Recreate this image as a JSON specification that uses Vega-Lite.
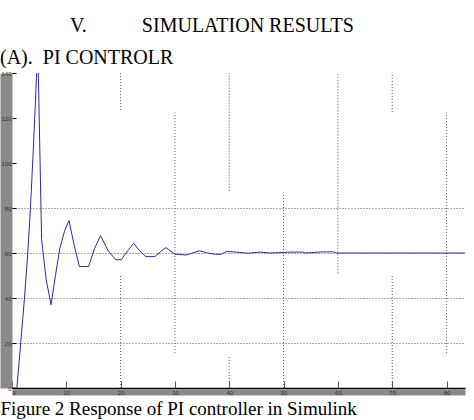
{
  "$schema": "https://vega.github.io/schema/vega-lite/v6.json",
  "width": 453,
  "height": 315,
  "autosize": {"type": "none"},
  "padding": {"left": 12, "top": 73, "right": 9, "bottom": 32},
  "background": "white",
  "title": {
    "text": "\u200b\u00a0\u00a0\u00a0\u00a0\u00a0\u00a0\u00a0\u00a0\u00a0\u00a0\u00a0\u00a0\u00a0\u00a0V.\u00a0\u00a0\u00a0\u00a0\u00a0\u00a0\u00a0\u00a0\u00a0\u00a0\u00a0SIMULATION RESULTS",
    "subtitle": "(A).\u00a0\u00a0PI CONTROLR",
    "anchor": "start",
    "frame": "group",
    "dx": -12,
    "offset": 2,
    "font": "Liberation Serif",
    "fontSize": 20,
    "fontWeight": "normal",
    "color": "black",
    "subtitleFont": "Liberation Serif",
    "subtitleFontSize": 20,
    "subtitleColor": "black",
    "subtitlePadding": 12
  },
  "datasets": {
    "gridSegments": [
      {"t": 20, "low": 123.5, "high": 140},
      {"t": 20, "low": 0, "high": 50},
      {"t": 30, "low": 15.5, "high": 122.4},
      {"t": 40, "low": 87.7, "high": 140},
      {"t": 40, "low": 0, "high": 14.2},
      {"t": 50, "low": 0, "high": 86.8},
      {"t": 60, "low": 51, "high": 140},
      {"t": 70, "low": 122.7, "high": 140},
      {"t": 70, "low": 0, "high": 49.8},
      {"t": 80, "low": 15.5, "high": 122.4}
    ],
    "response": [
      {"t": 0, "v": 0},
      {"t": 0.9, "v": 0},
      {"t": 1.6, "v": 20},
      {"t": 2.3, "v": 40},
      {"t": 2.9, "v": 60},
      {"t": 3.4, "v": 80},
      {"t": 4.0, "v": 110},
      {"t": 4.75, "v": 152},
      {"t": 5.45, "v": 66},
      {"t": 6.3, "v": 48},
      {"t": 7.2, "v": 37},
      {"t": 8.0, "v": 50},
      {"t": 8.8, "v": 62},
      {"t": 9.7, "v": 70},
      {"t": 10.5, "v": 74.4},
      {"t": 11.4, "v": 64},
      {"t": 12.4, "v": 54},
      {"t": 14.1, "v": 54},
      {"t": 15.2, "v": 62},
      {"t": 16.3, "v": 67.7},
      {"t": 17.7, "v": 61},
      {"t": 19.1, "v": 57},
      {"t": 20.1, "v": 57},
      {"t": 21.3, "v": 61},
      {"t": 22.4, "v": 64.3},
      {"t": 23.5, "v": 61},
      {"t": 24.6, "v": 58.4},
      {"t": 26.3, "v": 58.4},
      {"t": 27.3, "v": 60.5},
      {"t": 28.3, "v": 62.4},
      {"t": 30.0, "v": 59.5},
      {"t": 32.1, "v": 59.1},
      {"t": 34.5, "v": 61},
      {"t": 36.0, "v": 60},
      {"t": 37.5, "v": 59.4},
      {"t": 38.5, "v": 59.4},
      {"t": 39.5, "v": 60.7},
      {"t": 41.3, "v": 60.4},
      {"t": 43.5, "v": 59.9},
      {"t": 45.6, "v": 60.4},
      {"t": 47.5, "v": 60},
      {"t": 51.4, "v": 60.4},
      {"t": 53.5, "v": 60.4},
      {"t": 54.0, "v": 60},
      {"t": 57.2, "v": 60.5},
      {"t": 59.2, "v": 60.5},
      {"t": 59.7, "v": 60},
      {"t": 83.4, "v": 60}
    ]
  },
  "resolve": {"axis": {"x": "independent", "y": "independent"}},
  "layer": [
    {
      "data": {"name": "gridSegments"},
      "mark": {"type": "rule", "color": "#555555", "strokeWidth": 1, "strokeDash": [1, 2]},
      "encoding": {
        "x": {
          "field": "t",
          "type": "quantitative",
          "scale": {"domain": [0, 83.4], "nice": false, "zero": false},
          "axis": {
            "orient": "bottom",
            "values": [0, 10, 20, 30, 40, 50, 60, 70, 80],
            "grid": false,
            "ticks": false,
            "labels": false,
            "offset": 4,
            "domainColor": "#8a8a8a",
            "domainWidth": 6,
            "title": "Figure 2 Response of PI controller in Simulink",
            "titleFont": "Liberation Serif",
            "titleFontSize": 19,
            "titleFontWeight": "normal",
            "titleColor": "black",
            "titleAlign": "left",
            "titleBaseline": "alphabetic",
            "titleX": -12,
            "titleY": 22,
            "zindex": 0
          }
        },
        "y": {
          "field": "low",
          "type": "quantitative",
          "scale": {"domain": [0, 140], "nice": false, "zero": false},
          "axis": {
            "orient": "left",
            "values": [20, 40, 60, 80],
            "offset": 6,
            "domainColor": "#8a8a8a",
            "domainWidth": 12,
            "ticks": false,
            "labels": false,
            "title": null,
            "grid": true,
            "gridColor": "#555555",
            "gridDash": [1, 2],
            "gridWidth": 1,
            "zindex": 0
          }
        },
        "y2": {"field": "high"}
      }
    },
    {
      "data": {"name": "response"},
      "mark": {"type": "line", "color": "#2b2ba6", "strokeWidth": 1, "clip": true},
      "encoding": {
        "x": {
          "field": "t",
          "type": "quantitative",
          "scale": {"domain": [0, 83.4], "nice": false, "zero": false},
          "axis": {
            "orient": "bottom",
            "values": [0, 10, 20, 30, 40, 50, 60, 70, 80],
            "grid": false,
            "domainColor": "black",
            "domainWidth": 1.5,
            "tickSize": -7,
            "tickColor": "#555555",
            "tickWidth": 1,
            "labelFont": "Liberation Sans",
            "labelFontSize": 6,
            "labelColor": "#333333",
            "labelBaseline": "middle",
            "labelPadding": 11,
            "title": null,
            "zindex": 0
          }
        },
        "y": {
          "field": "v",
          "type": "quantitative",
          "scale": {"domain": [0, 140], "nice": false, "zero": false},
          "axis": {
            "orient": "left",
            "values": [0, 20, 40, 60, 80, 100, 120, 140],
            "grid": false,
            "domain": false,
            "tickSize": -4,
            "tickColor": "black",
            "tickWidth": 1,
            "labelFont": "Liberation Sans",
            "labelFontSize": 6,
            "labelColor": "#333333",
            "labelPadding": 5,
            "title": null,
            "zindex": 0
          }
        }
      }
    }
  ],
  "config": {"view": {"stroke": null}}
}
